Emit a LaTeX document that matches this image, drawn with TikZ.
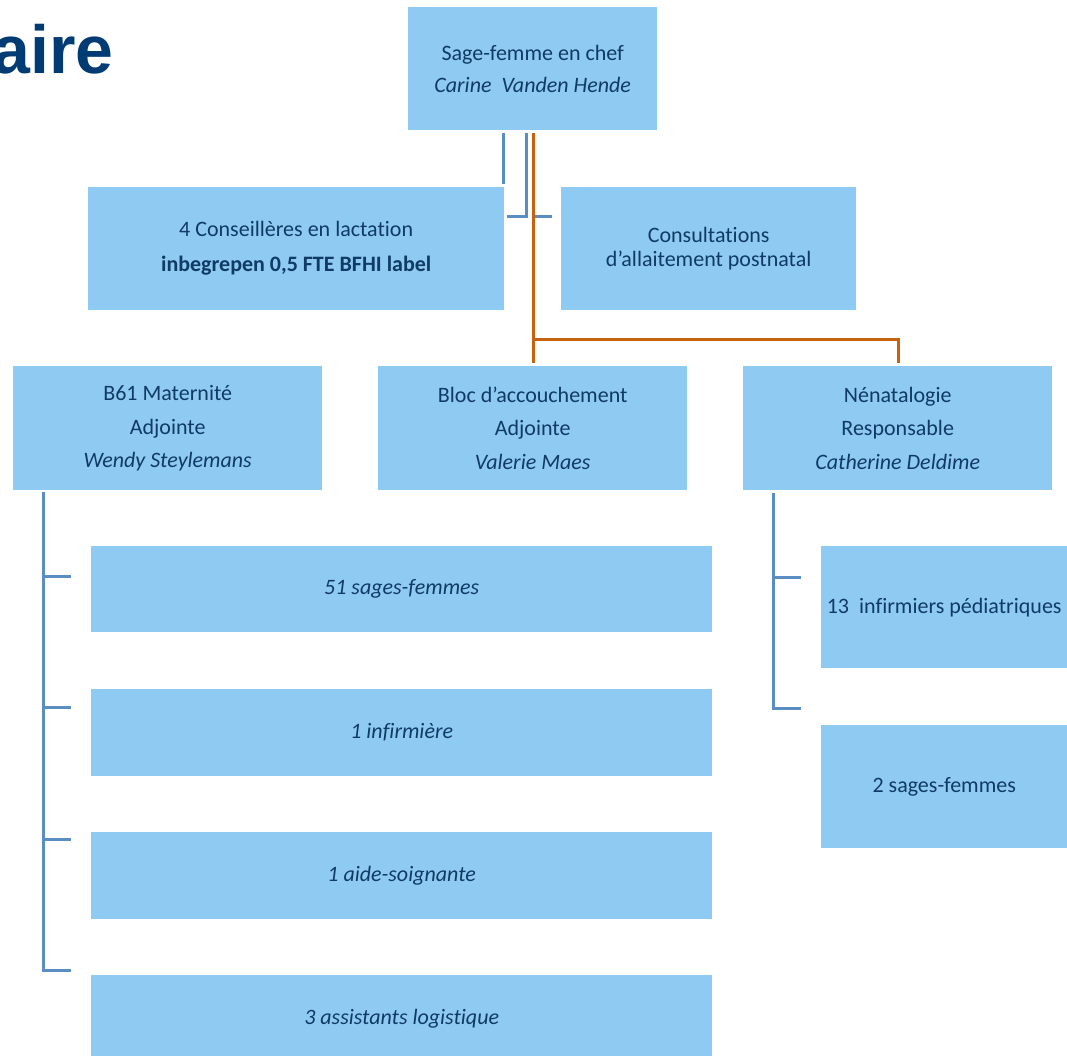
\documentclass[tikz,border=0pt]{standalone}
\usepackage{fontspec}
\setmainfont[Ligatures=NoCommon]{Carlito}
\newfontfamily\titlefont{Liberation Sans}
\definecolor{boxblue}{HTML}{8FCAF2}
\definecolor{textnavy}{HTML}{0F3B66}
\definecolor{titleblue}{HTML}{003B73}
\definecolor{lineblue}{HTML}{5A8DC2}
\definecolor{lineorange}{HTML}{C9620F}
\begin{document}
\begin{tikzpicture}[x=1pt,y=-1pt,
  box/.style={fill=boxblue, draw=none, anchor=north west, inner sep=0pt, align=center,
    text=textnavy, font=\fontsize{22}{33.5}\selectfont},
  bline/.style={draw=lineblue, line width=3pt},
  oline/.style={draw=lineorange, line width=3pt}]
\useasboundingbox (0,0) rectangle (1067,1055);
\clip (0,0) rectangle (1067,1055);
% title
\node[anchor=base east, inner sep=0pt, text=titleblue, font=\titlefont\bfseries\fontsize{68}{80}\selectfont] (title) at (114,73) {aire};
% boxes
\node[box, minimum width=249pt, minimum height=123pt, font=\fontsize{22}{32}\selectfont] (chef) at (408,7) {Sage-femme en chef\\\textit{Carine\ \ Vanden Hende}};
\node[box, minimum width=416pt, minimum height=123pt, font=\fontsize{22}{35}\selectfont] (cons) at (88,187) {4 Conseillères en lactation\\\textbf{inbegrepen 0,5 FTE BFHI label}};
\node[box, minimum width=295pt, minimum height=123pt, font=\fontsize{22}{24}\selectfont] (allait) at (561,187) {Consultations\\d’allaitement postnatal};
\node[box, minimum width=309pt, minimum height=124pt] (b61) at (13,366) {B61 Maternité\\Adjointe\\\textit{Wendy Steylemans}};
\node[box, minimum width=309pt, minimum height=124pt] (bloc) at (378,366) {Bloc d’accouchement\\Adjointe\\\textit{Valerie Maes}};
\node[box, minimum width=309pt, minimum height=124pt] (nena) at (743,366) {Nénatalogie\\Responsable\\\textit{Catherine Deldime}};
\node[box, minimum width=621pt, minimum height=86pt] (sf) at (91,546) {\textit{51 sages-femmes}};
\node[box, minimum width=621pt, minimum height=87pt] (inf) at (91,689) {\textit{1 infirmière}};
\node[box, minimum width=621pt, minimum height=87pt] (aide) at (91,832) {\textit{1 aide-soignante}};
\node[box, minimum width=621pt, minimum height=87pt] (assist) at (91,975) {\textit{3 assistants logistique}};
\node[box, minimum width=246pt, minimum height=122pt] (ped) at (821,546) {13\ \ infirmiers pédiatriques};
\node[box, minimum width=246pt, minimum height=123pt] (nsf) at (821,725) {2 sages-femmes};
% connector coordinates
\coordinate (c1a) at (503,133); \coordinate (c1b) at (503,184);
\coordinate (c2a) at (526,133); \coordinate (c2b) at (526,216); \coordinate (c2c) at (507,216);
\coordinate (c3a) at (534,216); \coordinate (c3b) at (552,216);
\coordinate (oa) at (533,133); \coordinate (ob) at (533,363); \coordinate (oc) at (533,339);
\coordinate (od) at (898,339); \coordinate (oe) at (898,363);
\coordinate (la) at (43,492); \coordinate (lb) at (43,970); \coordinate (lc) at (71,970);
\coordinate (l1) at (71,576); \coordinate (l2) at (71,707); \coordinate (l3) at (71,839);
\coordinate (ra) at (773,493); \coordinate (rb) at (773,708); \coordinate (rc) at (801,708);
\coordinate (r1) at (801,577);
% connectors
\draw[bline] (c1a) -- (c1b);
\draw[bline] (c2a) -- (c2b) -- (c2c);
\draw[bline] (c3a) -- (c3b);
\draw[oline] (oa) -- (ob);
\draw[oline] (oc) -- (od) -- (oe);
\draw[bline] (la) -- (lb) -- (lc);
\draw[bline] (la |- l1) -- (l1);
\draw[bline] (la |- l2) -- (l2);
\draw[bline] (la |- l3) -- (l3);
\draw[bline] (ra) -- (rb) -- (rc);
\draw[bline] (ra |- r1) -- (r1);
\end{tikzpicture}
\end{document}
